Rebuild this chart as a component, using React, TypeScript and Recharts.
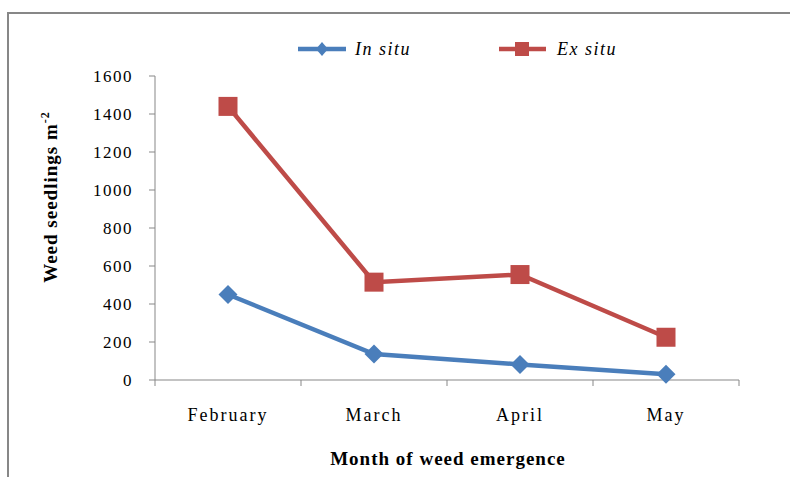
import React from 'react';
import { LineChart, Line, XAxis, YAxis, Label } from 'recharts';

const months = ['February', 'March', 'April', 'May'];
const inSitu = [450, 137, 82, 30];
const exSitu = [1440, 515, 555, 225];
const yTicks = [0, 200, 400, 600, 800, 1000, 1200, 1400, 1600];
// category centres sit on integers, tick marks on the half steps between them
const xTicks = [-0.5, 0, 0.5, 1, 1.5, 2, 2.5, 3, 3.5];

const data = months.map((month, i) => ({ idx: i, month, inSitu: inSitu[i], exSitu: exSitu[i] }));

const BLUE = '#4a7ebb';
const RED = '#be4b48';
const AXIS = '#878787';
const FONT = '"Liberation Serif", "Times New Roman", serif';

const Diamond = (props: any) => {
  const { cx, cy, index } = props;
  const r = 9.5;
  return (
    <path
      key={`d-${index}`}
      d={`M${cx},${cy - r} L${cx + r},${cy} L${cx},${cy + r} L${cx - r},${cy} Z`}
      fill={BLUE}
    />
  );
};

const Square = (props: any) => {
  const { cx, cy, index } = props;
  const h = 9.5;
  return <rect key={`s-${index}`} x={cx - h} y={cy - h} width={h * 2} height={h * 2} fill={RED} />;
};

const MonthTick = (props: any) => {
  const { x, y, payload } = props;
  const v = payload.value;
  if (Number.isInteger(v)) {
    return (
      <text x={x} y={y + 41} textAnchor="middle" fontFamily={FONT} fontSize={18} letterSpacing={2} fill="#000">
        {months[v]}
      </text>
    );
  }
  return <line x1={x} x2={x} y1={y} y2={y + 6} stroke={AXIS} strokeWidth={1} />;
};

const LegendBox = () => (
  <svg width={790} height={70} style={{ position: 'absolute', left: 0, top: 0 }}>
    <line x1={298} x2={346} y1={49} y2={49} stroke={BLUE} strokeWidth={4.5} />
    <path d="M322,42 L328,49 L322,56 L316,49 Z" fill={BLUE} />
    <text x={355} y={55} fontFamily={FONT} fontStyle="italic" fontSize={18} letterSpacing={1.5} fill="#000">
      In situ
    </text>
    <line x1={499} x2={546} y1={49} y2={49} stroke={RED} strokeWidth={4.5} />
    <rect x={515} y={42} width={14} height={14} fill={RED} />
    <text x={557} y={55} fontFamily={FONT} fontStyle="italic" fontSize={18} letterSpacing={1.5} fill="#000">
      Ex situ
    </text>
  </svg>
);

const YTitle = () => (
  <text
    transform="translate(57,197) rotate(-90)"
    textAnchor="middle"
    fontFamily={FONT}
    fontWeight="bold"
    fontSize={19}
    letterSpacing={1}
    fill="#000"
  >
    Weed seedlings m<tspan dy={-8} fontSize={12}>-2</tspan>
  </text>
);

const XTitle = () => (
  <text x={448} y={465} textAnchor="middle" fontFamily={FONT} fontWeight="bold" fontSize={19} letterSpacing={1} fill="#000">
    Month of weed emergence
  </text>
);

export default function App() {
  return (
    <div style={{ position: 'absolute', left: 0, top: 0, width: 790, height: 477, overflow: 'hidden', background: '#fff' }}>
      <div
        style={{
          position: 'absolute',
          left: 7,
          top: 12,
          width: 820,
          height: 500,
          border: `2px solid ${AXIS}`,
          boxSizing: 'border-box',
        }}
      />
      <LineChart
        width={790}
        height={477}
        data={data}
        margin={{ top: 76, right: 51, left: 95, bottom: 57 }}
        style={{ position: 'absolute', left: 0, top: 0 }}
      >
        <XAxis
          dataKey="idx"
          type="number"
          domain={[-0.5, 3.5]}
          ticks={xTicks}
          interval={0}
          tickSize={0}
          tickMargin={0}
          tick={<MonthTick />}
          axisLine={{ stroke: AXIS }}
          height={40}
        >
          <Label content={<XTitle />} />
        </XAxis>
        <YAxis
          domain={[0, 1600]}
          ticks={yTicks}
          interval={0}
          width={60}
          tickSize={6}
          tickMargin={16}
          tickLine={{ stroke: AXIS }}
          axisLine={{ stroke: AXIS }}
          tick={{ fontFamily: FONT, fontSize: 17, letterSpacing: 1.5, fill: '#000' }}
        >
          <Label content={<YTitle />} />
        </YAxis>
        <Line
          dataKey="inSitu"
          name="In situ"
          stroke={BLUE}
          strokeWidth={4.5}
          dot={Diamond}
          activeDot={false}
          isAnimationActive={false}
        />
        <Line
          dataKey="exSitu"
          name="Ex situ"
          stroke={RED}
          strokeWidth={4.5}
          dot={Square}
          activeDot={false}
          isAnimationActive={false}
        />
      </LineChart>
      <LegendBox />
    </div>
  );
}
